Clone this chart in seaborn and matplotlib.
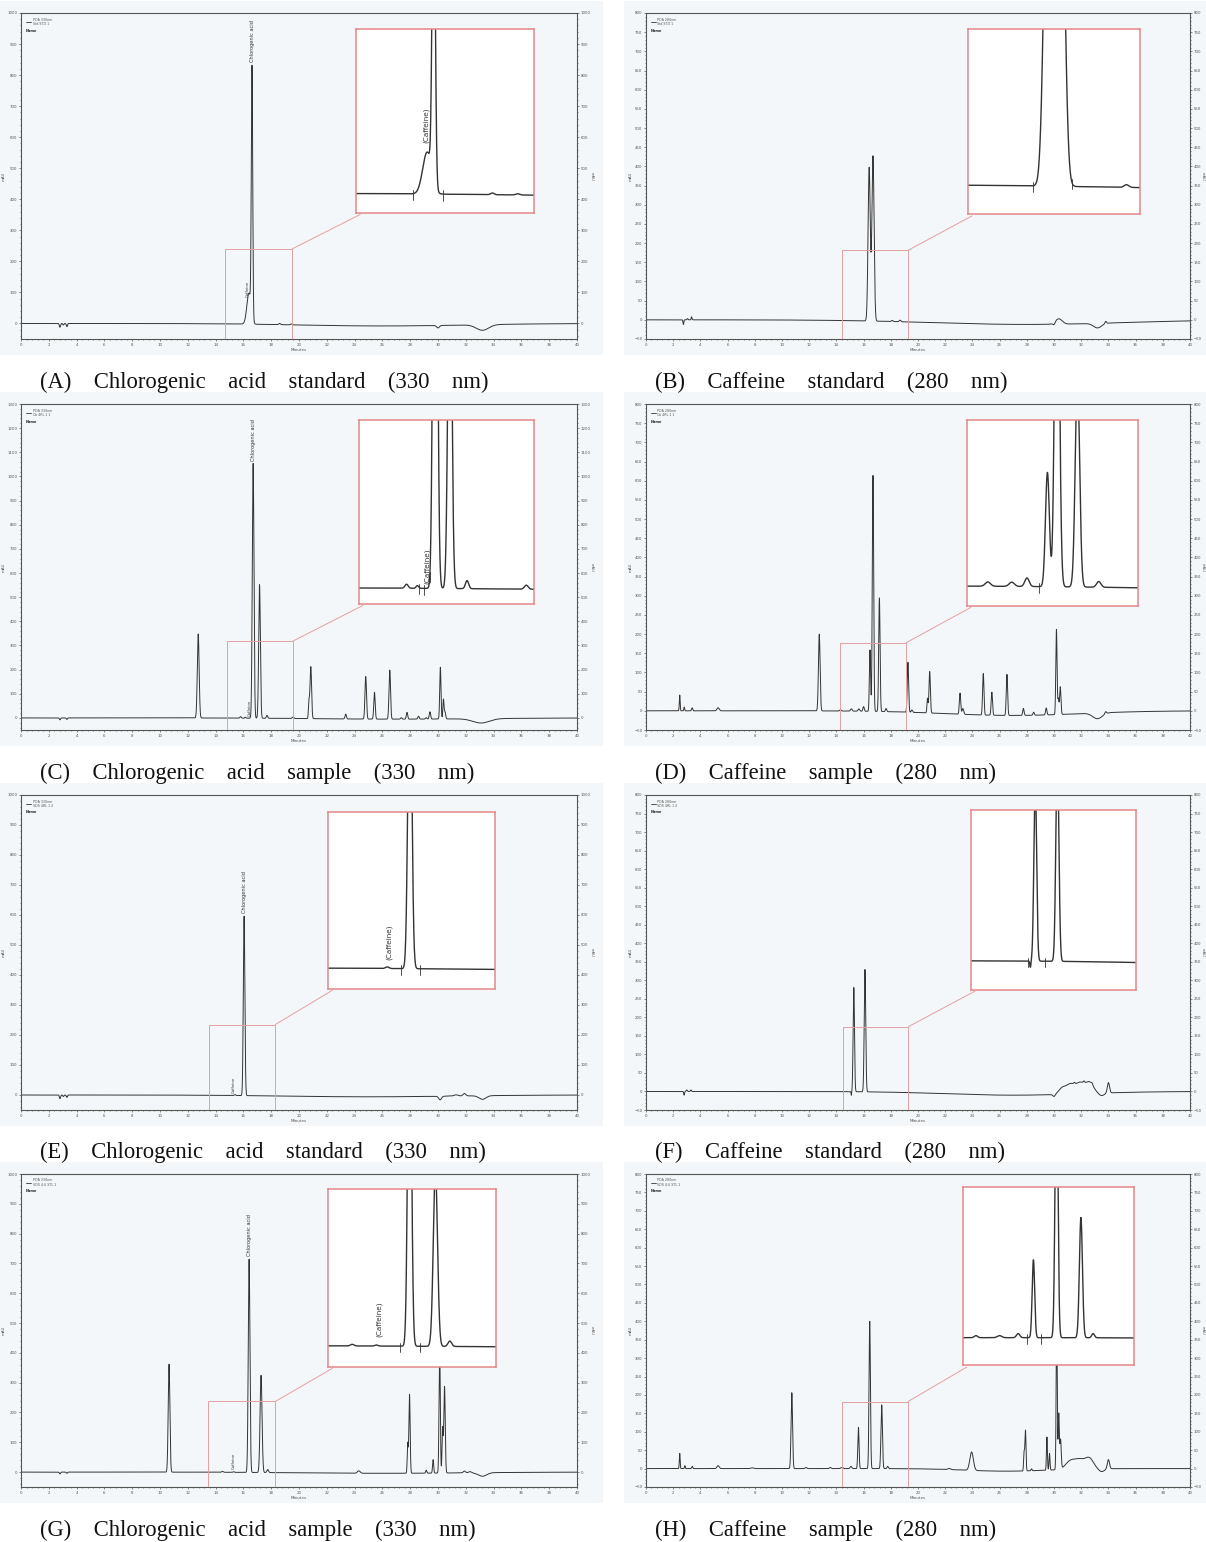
import numpy as np
import pandas as pd
import matplotlib
matplotlib.use("Agg")
import matplotlib.pyplot as plt
import seaborn as sns
from matplotlib.patches import Rectangle
from matplotlib.ticker import MultipleLocator, AutoMinorLocator

# Peak tables:
# retention time (min), height (mAU), width (sigma, min).
# Negative heights are baseline dips / slow drift.
A_RT = [2.8, 3.05, 3.3, 16.4, 16.62, 18.6, 19.45, 26.0, 30.0, 33.2]
A_H = [-12, -5, -10, 100, 800, 4, 3, -8, -8, -18]
A_W = [0.04, 0.04, 0.04, 0.15, 0.05, 0.06, 0.06, 6.0, 0.1, 0.45]

B_RT = [2.75, 3.05, 3.35, 16.41, 16.69, 18.1, 18.68, 28.0, 30.0, 30.35, 33.2, 33.8]
B_H = [-12, 3, 8, 400, 430, 3, 4, -12, -6, 14, -12, 6]
B_W = [0.03, 0.04, 0.03, 0.08, 0.08, 0.05, 0.06, 7.0, 0.08, 0.25, 0.3, 0.06]

C_RT = [2.8, 3.3, 12.75, 15.8, 16.14, 16.7, 17.16, 17.7, 19.56, 20.72, 20.85,
        23.36, 24.8, 25.43, 26.53, 27.36, 27.77, 28.6, 29.15, 29.42, 30.17,
        30.39, 30.5, 27.0, 33.1]
C_H = [-8, -6, 348, 6, 4, 1055, 553, 12, 6, 70, 215,
       20, 176, 111, 203, 6, 28, 12, 6, 30, 214,
       80, 30, -5, -18]
C_W = [0.04, 0.04, 0.065, 0.05, 0.04, 0.06, 0.06, 0.05, 0.06, 0.04, 0.055,
       0.05, 0.055, 0.05, 0.055, 0.05, 0.05, 0.05, 0.05, 0.05, 0.045,
       0.04, 0.05, 6.0, 0.6]

D_RT = [2.48, 2.81, 3.39, 5.3, 12.74, 14.3, 15.1, 15.65, 16.0, 16.47, 16.69,
        17.16, 17.65, 19.26, 19.55, 20.7, 20.86, 23.09, 23.3, 24.8, 25.43,
        26.54, 27.75, 28.5, 29.43, 30.18, 30.32, 30.46, 27.0, 33.2, 33.8]
D_H = [41, 10, 8, 8, 200, 3, 6, 6, 12, 160, 615,
       296, 8, 130, 6, 38, 108, 55, 15, 108, 60,
       107, 18, 8, 18, 222, 40, 72, -12, -15, 6]
D_W = [0.03, 0.03, 0.04, 0.08, 0.06, 0.06, 0.06, 0.06, 0.05, 0.045, 0.05,
       0.05, 0.05, 0.05, 0.05, 0.04, 0.05, 0.05, 0.06, 0.05, 0.05,
       0.05, 0.05, 0.05, 0.05, 0.045, 0.04, 0.05, 5.0, 0.35, 0.06]

E_RT = [2.8, 3.05, 3.3, 15.4, 16.05, 25.0, 30.15, 31.3, 31.9, 33.2]
E_H = [-12, -5, -8, 3, 598, -6, -12, 4, 8, -12]
E_W = [0.04, 0.04, 0.04, 0.05, 0.055, 6.0, 0.1, 0.15, 0.1, 0.25]

F_RT = [2.8, 3.0, 3.3, 15.1, 15.28, 16.1, 27.0, 30.0, 30.6, 31.2, 31.9, 32.6,
        31.5, 32.2, 32.8, 33.5, 34.0]
F_H = [-10, 4, 4, -10, 281, 330, -10, -6, 16, 26, 28, 30,
       4, 5, 4, -7, 28]
F_W = [0.03, 0.04, 0.04, 0.02, 0.05, 0.055, 5.0, 0.08, 0.25, 0.3, 0.3, 0.3,
       0.05, 0.05, 0.05, 0.2, 0.08]

G_RT = [2.8, 3.3, 10.65, 14.5, 15.3, 16.41, 17.27, 17.75, 24.3, 27.82, 27.95,
        29.15, 29.65, 30.12, 30.33, 30.47, 31.9, 32.3, 26.0, 33.2]
G_H = [-6, -4, 362, 3, 2, 715, 326, 10, 8, 100, 265,
       10, 45, 420, 150, 290, 6, 4, -4, -12]
G_W = [0.04, 0.04, 0.06, 0.06, 0.05, 0.06, 0.07, 0.06, 0.1, 0.035, 0.045,
       0.04, 0.04, 0.045, 0.04, 0.05, 0.08, 0.1, 6.0, 0.3]

H_RT = [2.48, 2.86, 3.4, 5.3, 7.8, 10.72, 11.76, 13.55, 14.4, 15.07, 15.62,
        16.45, 17.33, 17.77, 22.3, 23.94, 26.5, 27.8, 27.9, 28.35, 29.48,
        29.67, 30.2, 30.35, 30.48, 31.2, 31.9, 32.6, 33.5, 34.0]
H_H = [41, 8, 6, 8, 2, 206, 3, 3, 3, 6, 112,
       400, 173, 6, 3, 50, -7, 50, 110, 5, 90,
       45, 420, 150, 80, 22, 24, 28, -8, 25]
H_W = [0.03, 0.03, 0.04, 0.08, 0.1, 0.055, 0.06, 0.06, 0.08, 0.06, 0.045,
       0.05, 0.055, 0.05, 0.1, 0.13, 3.0, 0.035, 0.04, 0.04, 0.035,
       0.035, 0.04, 0.04, 0.05, 0.35, 0.35, 0.3, 0.2, 0.08]

# named peaks printed above the traces
CGA_NAMES = {"A": [("Chlorogenic acid", 16.62), ("Caffeine", 16.3)],
             "C": [("Chlorogenic acid", 16.7), ("Caffeine", 16.45)],
             "E": [("Chlorogenic acid", 16.05), ("Caffeine", 15.3)],
             "G": [("Chlorogenic acid", 16.41), ("Caffeine", 15.3)]}

CAPTIONS = ["(A) Chlorogenic acid standard (330 nm)",
            "(B) Caffeine standard (280 nm)",
            "(C) Chlorogenic acid sample (330 nm)",
            "(D) Caffeine sample (280 nm)",
            "(E) Chlorogenic acid standard (330 nm)",
            "(F) Caffeine standard (280 nm)",
            "(G) Chlorogenic acid sample (330 nm)",
            "(H) Caffeine sample (280 nm)"]

LEGENDS = [("PDA 330nm", "Std STD 1"), ("PDA 280nm", "Std STD 1"),
           ("PDA 330nm", "Cb 4RL 1 1"), ("PDA 280nm", "Cb 4RL 1 1"),
           ("PDA 330nm", "SDS 4RL 1 2"), ("PDA 280nm", "SDS 4RL 1 2"),
           ("PDA 330nm", "SDS 4-6 STL 1"), ("PDA 280nm", "SDS 4-6 STL 1")]

# layout: y top, y tick step, zoom box, inset box (main data coords), inset view
LAYOUT = {
    "A": dict(ytop=1000, step=100, rect=(14.7, 19.5, 240), box=(24.1, 36.9, 355, 950),
              vx=(14.0, 20.0), vy=(-48, 392), lab=(16.36, 120), marks=[15.92, 16.92]),
    "B": dict(ytop=800, step=50, rect=(14.4, 19.26, 181), box=(23.67, 36.36, 275, 758),
              vx=(14.7, 18.4), vy=(-35, 175), lab=None, marks=[16.1, 16.93]),
    "C": dict(ytop=1300, step=100, rect=(14.8, 19.56, 318), box=(24.3, 36.9, 470, 1234),
              vx=(14.3, 19.8), vy=(-25, 250), lab=(16.45, 5), marks=[16.2, 16.36, 16.53]),
    "D": dict(ytop=800, step=50, rect=(14.3, 19.1, 177), box=(23.6, 36.2, 274, 758),
              vx=(14.62, 18.56), vy=(-28, 232), lab=None, marks=[16.27]),
    "E": dict(ytop=1000, step=100, rect=(13.5, 18.3, 235), box=(22.1, 34.1, 353, 944),
              vx=(13.7, 18.5), vy=(-40, 290), lab=(15.45, 15), marks=[15.8, 16.33]),
    "F": dict(ytop=800, step=50, rect=(14.5, 19.3, 175), box=(23.9, 36.0, 275, 759),
              vx=(12.9, 19.0), vy=(-45, 235), lab=None, marks=[15.02, 15.64]),
    "G": dict(ytop=1000, step=100, rect=(13.46, 18.3, 237), box=(22.1, 34.2, 352, 949),
              vx=(13.7, 19.3), vy=(-40, 290), lab=(15.4, 16), marks=[16.1, 16.77]),
    "H": dict(ytop=800, step=50, rect=(14.43, 19.26, 182), box=(23.3, 35.9, 280, 765),
              vx=(13.08, 19.25), vy=(-40, 217), lab=None, marks=[15.38, 15.9]),
}

PEAKS = {"A": (A_RT, A_H, A_W), "B": (B_RT, B_H, B_W), "C": (C_RT, C_H, C_W),
         "D": (D_RT, D_H, D_W), "E": (E_RT, E_H, E_W), "F": (F_RT, F_H, F_W),
         "G": (G_RT, G_H, G_W), "H": (H_RT, H_H, H_W)}

W_PX, H_PX = 1206, 1542
COLS = [(21, 577), (646, 1190)]
ROWS = [(13, 339), (404, 730), (795, 1110), (1174, 1487)]
CAP_Y = [382, 773, 1152, 1530]
CAP_X = [40, 655]

LINE = "#333333"
AXC = "#555555"
RED = "#e4878a"
RECT_C = "#e3a0a2"
TINT = "#f4f7f9"

T = np.linspace(0, 40, 8001)


def trace(rt, h, w):
    rt, h, w = (np.asarray(v, float)[:, None] for v in (rt, h, w))
    return (h * np.exp(-0.5 * ((T - rt) / w) ** 2)).sum(axis=0)


def draw_panel(ax, key, legend, right_px):
    cfg = LAYOUT[key]
    df = pd.DataFrame({"Minutes": T, "mAU": trace(*PEAKS[key])})

    sns.lineplot(data=df, x="Minutes", y="mAU", ax=ax, color=LINE, linewidth=0.7,
                 estimator=None, sort=False)
    ax.set_xlim(0, 40)
    ax.set_ylim(-50, cfg["ytop"])
    ax.set_facecolor(TINT)
    ax.xaxis.set_major_locator(MultipleLocator(2))
    ax.xaxis.set_minor_locator(AutoMinorLocator(5))
    ax.yaxis.set_major_locator(MultipleLocator(cfg["step"]))
    ax.yaxis.set_minor_locator(AutoMinorLocator(5))
    ax.tick_params(which="both", direction="out", colors=AXC, labelsize=2.8,
                   width=0.5, right=True, labelright=True, pad=1)
    ax.tick_params(which="major", length=1.6)
    ax.tick_params(which="minor", length=0.9)
    for s in ax.spines.values():
        s.set_visible(True)
        s.set_color(AXC)
        s.set_linewidth(0.8)
    ax.set_xlabel("Minutes", fontsize=3, labelpad=1, color=AXC)
    ax.set_ylabel("mAU", fontsize=2.8, labelpad=1, color=AXC)
    # right-hand unit label, kept inside the page
    bbox = ax.get_position()
    x_r = min(right_px + 13, W_PX - 5) / W_PX
    ax.figure.text(x_r, bbox.y0 + bbox.height / 2, "mAU", rotation=270, fontsize=2.6,
                   color=AXC, va="center", ha="left")

    # legend block in the corner
    ax.plot([0.009, 0.018], [0.972, 0.972], transform=ax.transAxes, color=LINE, lw=0.6)
    ax.text(0.021, 0.972, legend[0] + "\n" + legend[1], transform=ax.transAxes,
            fontsize=2.3, color=AXC, va="center", linespacing=1.2)
    ax.text(0.009, 0.945, "Name", transform=ax.transAxes, fontsize=2.5,
            color="#222222", weight="bold", va="center")

    # peak names
    for name, rt in CGA_NAMES.get(key, []):
        y = np.interp(rt, df["Minutes"], df["mAU"])
        big = name.startswith("Chloro")
        ax.text(rt, y + (12 if big else 8), name, rotation=90, fontsize=3.6 if big else 2.8,
                ha="center", va="bottom", color=LINE)

    # zoom box and connector
    x0, x1, y1 = cfg["rect"]
    bx0, bx1, by0, by1 = cfg["box"]
    ax.add_patch(Rectangle((x0, -50), x1 - x0, y1 + 50, fill=False, edgecolor=RECT_C,
                           linewidth=0.7, zorder=3))
    ax.plot([x1, bx0 + 0.3], [y1, by0 - 4], color=RECT_C, lw=0.7, zorder=3)

    # inset
    ins = ax.inset_axes([bx0, by0, bx1 - bx0, by1 - by0], transform=ax.transData, zorder=5)
    vx, vy = cfg["vx"], cfg["vy"]
    zoom = df[(df["Minutes"] >= vx[0]) & (df["Minutes"] <= vx[1])]
    sns.lineplot(data=zoom, x="Minutes", y="mAU", ax=ins, color=LINE, linewidth=1.0,
                 estimator=None, sort=False)
    ins.set_xlim(*vx)
    ins.set_ylim(*vy)
    ins.set_facecolor("white")
    ins.set_xticks([])
    ins.set_yticks([])
    ins.set_xlabel("")
    ins.set_ylabel("")
    for s in ins.spines.values():
        s.set_visible(True)
        s.set_color(RED)
        s.set_linewidth(1.1)
    span = vy[1] - vy[0]
    for m in cfg["marks"]:
        yb = np.interp(m, df["Minutes"], df["mAU"])
        ins.plot([m, m], [yb - 0.035 * span, yb + 0.02 * span], color=LINE, lw=0.6)
    if cfg["lab"] is not None:
        lx, ly = cfg["lab"]
        ins.text(lx, ly, "(Caffeine)", rotation=90, fontsize=5.2, ha="center",
                 va="bottom", color=LINE)


sns.set_theme(style="ticks")
plt.rcParams["font.family"] = ["DejaVu Sans"]

fig = plt.figure(figsize=(W_PX / 100, H_PX / 100), dpi=100)

keys = list("ABCDEFGH")
for i, key in enumerate(keys):
    r, c = divmod(i, 2)
    (l, rr), (t, b) = COLS[c], ROWS[r]
    # scanned-page tint behind each chromatogram
    tx0 = 0 if c == 0 else 624
    tx1 = 603 if c == 0 else W_PX
    fig.add_artist(Rectangle((tx0 / W_PX, 1 - (b + 16) / H_PX), (tx1 - tx0) / W_PX,
                             (b - t + 28) / H_PX, transform=fig.transFigure,
                             color=TINT, zorder=-1, linewidth=0))
    ax = fig.add_axes([l / W_PX, 1 - b / H_PX, (rr - l) / W_PX, (b - t) / H_PX])
    draw_panel(ax, key, LEGENDS[i], rr)
    fig.text(CAP_X[c] / W_PX, 1 - CAP_Y[r] / H_PX, CAPTIONS[i].replace(" ", "    "),
             fontsize=16.3, family=["Liberation Serif", "DejaVu Serif"],
             ha="left", va="center", color="#111111")

fig.savefig("out.png", dpi=100)
